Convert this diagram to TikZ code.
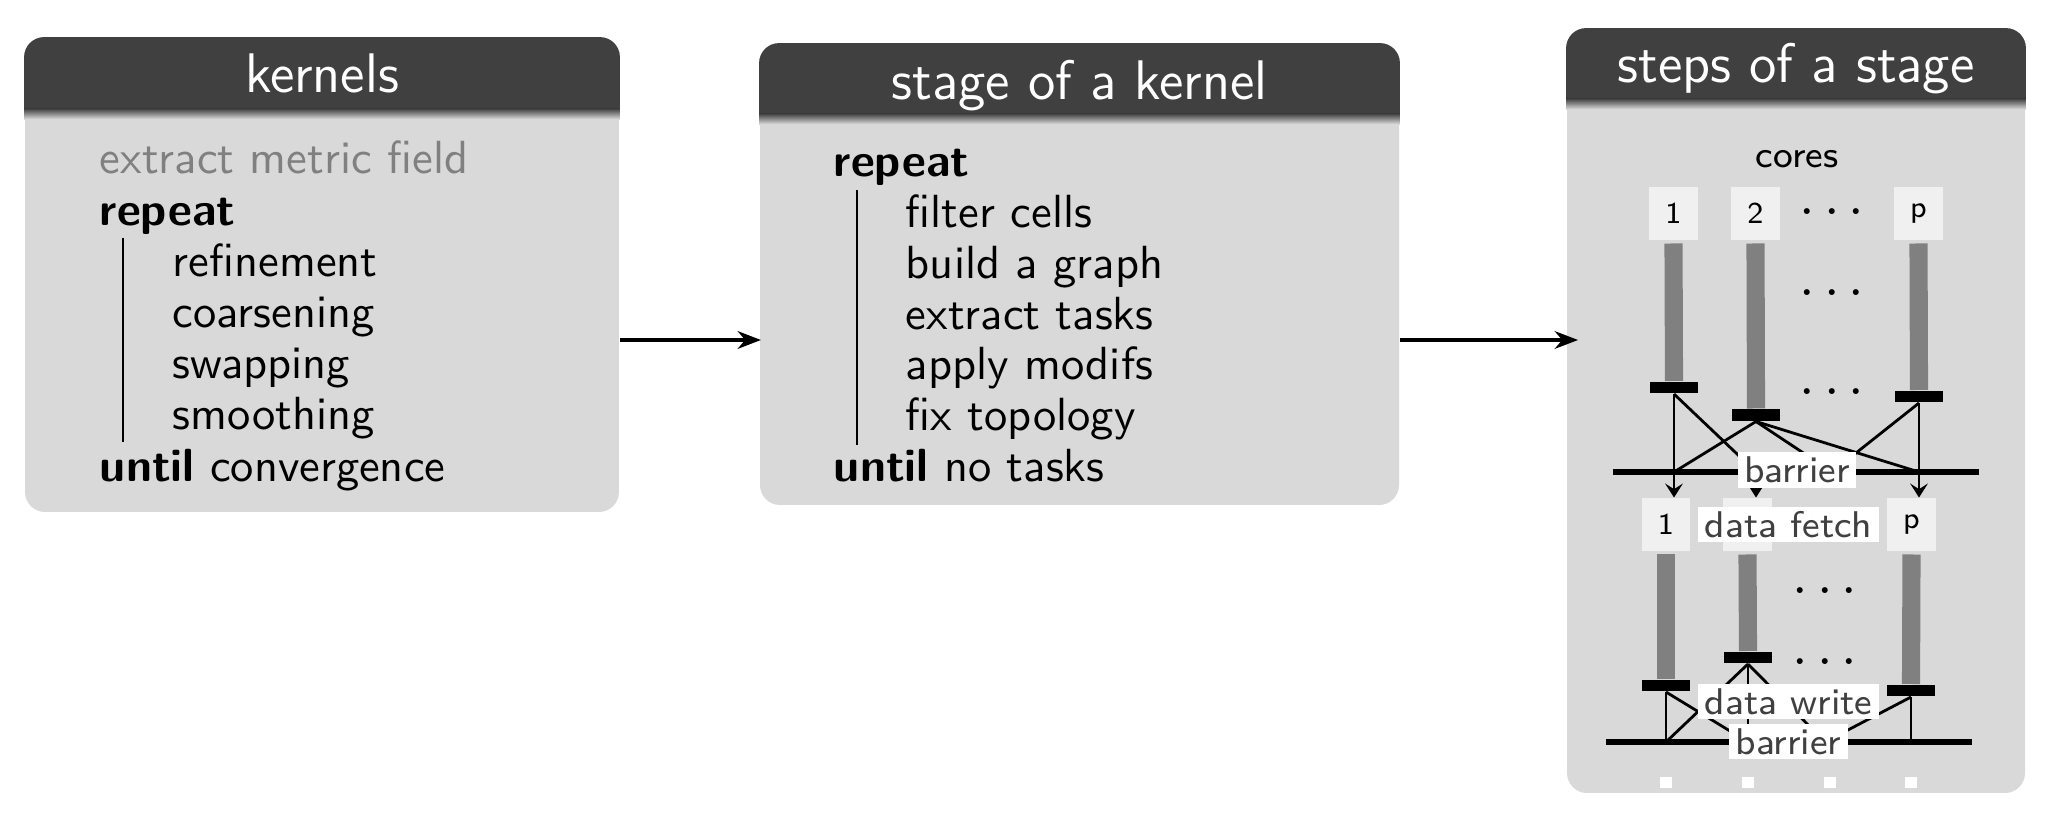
\documentclass[tikz,border=0pt]{standalone}
\usetikzlibrary{arrows.meta,calc}
\definecolor{hdr}{HTML}{404040}
\definecolor{bodygray}{HTML}{D9D9D9}
\definecolor{boxgray}{HTML}{F0F0F0}
\definecolor{bargray}{HTML}{808080}
\definecolor{txtgray}{HTML}{808080}
\begin{document}
\begin{tikzpicture}[x=0.21505pt,y=-0.21505pt,font=\sffamily,
  panelbody/.style={fill=bodygray,rounded corners=4.3pt,inner sep=0pt},
  paneltitle/.style={anchor=base,text=white,font=\sffamily\large,inner sep=0pt},
  ltext/.style={anchor=base west,inner sep=0pt,font=\sffamily},
  rulebar/.style={line width=0.6pt},
  flow/.style={line width=0.7pt,-{Stealth[length=5pt,width=3.8pt,inset=1.6pt]}},
  core/.style={fill=boxgray,minimum width=10.5pt,minimum height=11.2pt,inner sep=0pt,font=\sffamily\fontsize{6.5}{8}\selectfont},
  taskbar/.style={draw=bargray,line width=3.9pt},
  sync/.style={fill=black,minimum width=10.3pt,minimum height=2.4pt,inner sep=0pt},
  barrierline/.style={line width=1.45pt},
  dep/.style={line width=0.6pt},
  deparrow/.style={dep,-{Stealth[length=3pt,width=3.8pt,inset=1.2pt]}},
  tag/.style={fill=white,text=hdr,font=\sffamily\footnotesize,inner xsep=1.4pt,inner ysep=1pt},
  dotsn/.style={inner sep=0pt,font=\fontsize{11.5}{12}\selectfont},
  stub/.style={fill=white,minimum size=2.4pt,inner sep=0pt}
]
\useasboundingbox (0,0) rectangle (2052,816);

% ---------- panels ----------
\node[panelbody,minimum width=127.74pt,minimum height=101.93pt] (kernels) at (322,275) {};
\node[panelbody,minimum width=137.42pt,minimum height=99.14pt] (stage) at (1079.5,274.5) {};
\node[panelbody,minimum width=98.49pt,minimum height=164.30pt] (steps) at (1796,411) {};

\begin{scope}
  \clip[rounded corners=4.3pt] (kernels.north west) rectangle (kernels.south east);
  \fill[hdr] (kernels.north west) rectangle ($(kernels.north east)+(0,72)$);
  \shade[top color=hdr,bottom color=bodygray] ($(kernels.north west)+(0,71.5)$) rectangle ($(kernels.north east)+(0,82)$);
\end{scope}
\begin{scope}
  \clip[rounded corners=4.3pt] (stage.north west) rectangle (stage.south east);
  \fill[hdr] (stage.north west) rectangle ($(stage.north east)+(0,71)$);
  \shade[top color=hdr,bottom color=bodygray] ($(stage.north west)+(0,70.5)$) rectangle ($(stage.north east)+(0,81)$);
\end{scope}
\begin{scope}
  \clip[rounded corners=4.3pt] (steps.north west) rectangle (steps.south east);
  \fill[hdr] (steps.north west) rectangle ($(steps.north east)+(0,71)$);
  \shade[top color=hdr,bottom color=bodygray] ($(steps.north west)+(0,70.5)$) rectangle ($(steps.north east)+(0,81)$);
\end{scope}

\node[paneltitle] (kt) at (322,93) {kernels};
\node[paneltitle] (st) at (1079.5,100) {stage of a kernel};
\node[paneltitle] (pt) at (1796,83) {steps of a stage};

% ---------- kernels text ----------
\node[ltext,text=txtgray] (k0) at (99,174) {extract metric field};
\node[ltext] (k1) at (99,225.2) {\textbf{repeat}};
\node[ltext] (k2) at (172,276.4) {refinement};
\node[ltext] (k3) at (172,327.6) {coarsening};
\node[ltext] (k4) at (172,378.8) {swapping};
\node[ltext] (k5) at (172,430) {smoothing};
\node[ltext] (k6) at (99,481.2) {\textbf{until} convergence};
\coordinate (kr1) at (123,238);
\coordinate (kr2) at (123,442);
\draw[rulebar] (kr1) -- (kr2);

% ---------- stage text ----------
\node[ltext] (g1) at (833,176.7) {\textbf{repeat}};
\node[ltext] (g2) at (905,227.5) {filter cells};
\node[ltext] (g3) at (905,278.3) {build a graph};
\node[ltext] (g4) at (905,329.1) {extract tasks};
\node[ltext] (g5) at (905,379.9) {apply modifs};
\node[ltext] (g6) at (905,430.7) {fix topology};
\node[ltext] (g7) at (833,481.5) {\textbf{until} no tasks};
\coordinate (gr1) at (857,190);
\coordinate (gr2) at (857,445);
\draw[rulebar] (gr1) -- (gr2);

% ---------- flow arrows ----------
\coordinate (lvl) at (0,340);
\coordinate (stepsin) at (1578,340);
\draw[flow,shorten >=-0.4pt] (kernels.east |- lvl) -- (stage.west |- lvl);
\draw[flow] (stage.east |- lvl) -- (stepsin);

% ---------- steps content ----------
\node[anchor=base,inner sep=0pt,font=\sffamily\footnotesize] (cores) at (1797,168) {cores};

\node[core] (c1) at (1673.5,213.5) {1};
\node[core] (c2) at (1755.5,213.5) {2};
\node[core] (cp) at (1918.5,213.5) {p};
\node[dotsn] (d1) at (1832,213) {$\cdots$};
\node[dotsn] (d2) at (1832,294) {$\cdots$};
\node[dotsn] (d3) at (1832,393) {$\cdots$};
\node[sync] (r1) at (1674,387.5) {};
\node[sync] (r2) at (1756,415) {};
\node[sync] (rp) at (1919,396.5) {};
\draw[taskbar] ([yshift=-0.65pt]c1.south) -- (r1.north);
\draw[taskbar] ([yshift=-0.65pt]c2.south) -- (r2.north);
\draw[taskbar] ([yshift=-0.65pt]cp.south) -- (rp.north);

\coordinate (bL) at (1613,472);
\coordinate (bR) at (1979,472);
\coordinate (b1) at (1674,472);
\coordinate (b2) at (1756,472);
\coordinate (bd) at (1832,472);
\coordinate (bp) at (1919,472);
\draw[barrierline] (bL) -- (bR);

\node[core] (l1) at (1666,524.5) {1};
\node[core] (l2) at (1747.5,524.5) {};
\node[core] (lp) at (1911.5,524.5) {p};

\draw[dep] (r1.south) -- (b2);
\draw[dep] (r2.south) -- (b1);
\draw[dep] (r2.south) -- (bd);
\draw[dep] (r2.south) -- (bp);
\draw[dep] (rp.south) -- (bd);
\draw[deparrow] (r1.south) -- (r1.south |- l1.north);
\draw[deparrow] (b2) -- (b2 |- l2.north);
\draw[deparrow] (rp.south) -- (rp.south |- lp.north);

\node[dotsn] (d4) at (1825,592) {$\cdots$};
\node[dotsn] (d5) at (1825,663) {$\cdots$};
\node[sync] (s1) at (1666,685.5) {};
\node[sync] (s2) at (1748,657.5) {};
\node[sync] (sp) at (1911,690.5) {};
\draw[taskbar] ([yshift=-0.65pt]l1.south) -- (s1.north);
\draw[taskbar] ([yshift=-0.65pt]l2.south) -- (s2.north);
\draw[taskbar] ([yshift=-0.65pt]lp.south) -- (sp.north);

\coordinate (eL) at (1606,742);
\coordinate (eR) at (1972,742);
\coordinate (e1) at (1666,742);
\coordinate (e2) at (1748,742);
\coordinate (ed) at (1825,742);
\coordinate (ep) at (1911,742);
\draw[barrierline] (eL) -- (eR);
\draw[dep] (s1.south) -- (e1);
\draw[dep] (s1.south) -- (e2);
\draw[dep] (s2.south) -- (e1);
\draw[dep] (s2.south) -- (e2);
\draw[dep] (s2.south) -- (ed);
\draw[dep] (sp.south) -- (ed);
\draw[dep] (sp.south) -- (ep);

\node[tag] (bar1) at (1797,470) {barrier};
\node[tag] (fetch) at (1788.5,524.5) {data fetch};
\node[tag] (write) at (1788.5,701.5) {data write};
\node[tag] (bar2) at (1788.5,741.5) {barrier};

\node[stub] (n1) at (1666,782.5) {};
\node[stub] (n2) at (1748,782.5) {};
\node[stub] (n3) at (1830,782.5) {};
\node[stub] (n4) at (1911,782.5) {};
\end{tikzpicture}
\end{document}
